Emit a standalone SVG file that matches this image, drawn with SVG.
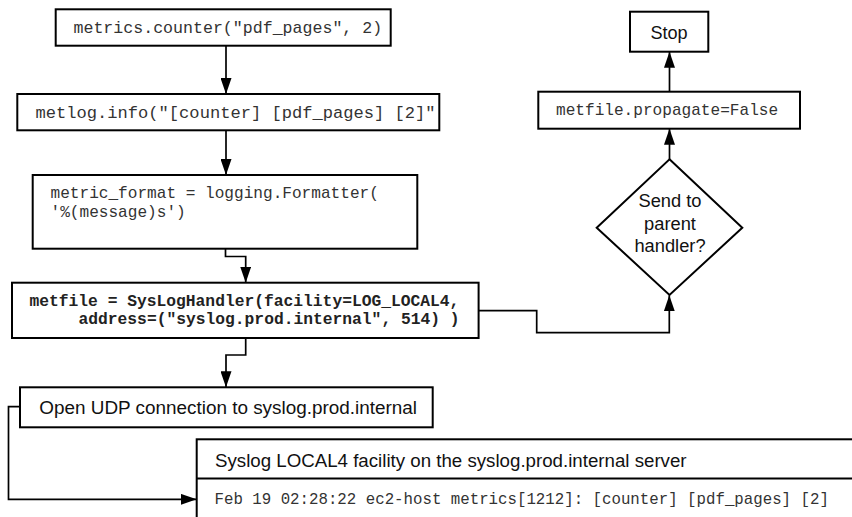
<svg xmlns="http://www.w3.org/2000/svg" width="852" height="517" viewBox="0 0 852 517">
<style>
.box{fill:#fff;stroke:#000;stroke-width:2}
.con{fill:none;stroke:#000;stroke-width:1.7}
.mono{font-family:"Liberation Mono","Courier New",monospace;fill:#333}
.bold{font-weight:bold;fill:#222}
.sans{font-family:"Liberation Sans",Arial,sans-serif;fill:#111}
</style>
<defs>
<marker id="arr" markerUnits="userSpaceOnUse" markerWidth="16" markerHeight="11" refX="16" refY="5.5" orient="auto">
<path d="M0,0 L16,5.5 L0,11 z" fill="#000"/>
</marker>
</defs>
<rect width="852" height="517" fill="#fff"/>
<g id="connectors">
<path class="con" d="M226,46 V94" marker-end="url(#arr)"/>
<path class="con" d="M226,130.5 V175" marker-end="url(#arr)"/>
<path class="con" d="M225.5,249 V256.5 H245.7 V282.7" marker-end="url(#arr)"/>
<path class="con" d="M245.7,338 V355 H226 V387.3" marker-end="url(#arr)"/>
<path class="con" d="M20,406.7 H8.5 V499.3 H196.7" marker-end="url(#arr)"/>
<path class="con" d="M479,310.7 H536.7 V332.7 H669.3 V295.3" marker-end="url(#arr)"/>
<path class="con" d="M669.5,159.5 V128.7" marker-end="url(#arr)"/>
<path class="con" d="M669.5,91.7 V51.7" marker-end="url(#arr)"/>
</g>
<g id="n1">
<rect class="box" x="55.7" y="9.3" width="335" height="36.4"/>
<text class="mono" x="73.5" y="32.5" font-size="16.6">metrics.counter("pdf_pages", 2)</text>
</g>
<g id="n2">
<rect class="box" x="17.3" y="94" width="422" height="36.3"/>
<text class="mono" x="35.5" y="118" font-size="17.1">metlog.info("[counter] [pdf_pages] [2]"</text>
</g>
<g id="n3">
<rect class="box" x="32.7" y="175" width="384.6" height="73.7"/>
<text class="mono" x="50.5" y="197.5" font-size="16.1">metric_format = logging.Formatter(</text>
<text class="mono" x="50.5" y="216.5" font-size="16.1">'%(message)s')</text>
</g>
<g id="n4">
<rect class="box" x="12" y="282.7" width="466.6" height="55.3"/>
<text class="mono bold" x="29.5" y="306" font-size="16.3">metfile = SysLogHandler(facility=LOG_LOCAL4,</text>
<text class="mono bold" x="78.5" y="324.3" font-size="16.3">address=("syslog.prod.internal", 514) )</text>
</g>
<g id="n5">
<rect class="box" x="20" y="387.3" width="412.7" height="40"/>
<text class="sans" x="39.3" y="414" font-size="18.9">Open UDP connection to syslog.prod.internal</text>
</g>
<g id="n6">
<rect class="box" x="196.7" y="439.3" width="700" height="120"/>
<line x1="196.7" y1="478.5" x2="852" y2="478.5" stroke="#000" stroke-width="2"/>
<text class="sans" x="215" y="466.7" font-size="18.7">Syslog LOCAL4 facility on the syslog.prod.internal server</text>
<text class="mono" x="214.5" y="504" font-size="15.75">Feb 19 02:28:22 ec2-host metrics[1212]: [counter] [pdf_pages] [2]</text>
</g>
<g id="n7">
<polygon class="box" points="669.5,159.3 742.3,227.7 669.5,295 596.7,227.7"/>
<text class="sans" x="670" y="207" font-size="18.3" text-anchor="middle">Send to</text>
<text class="sans" x="670" y="230" font-size="18.3" text-anchor="middle">parent</text>
<text class="sans" x="670" y="252.3" font-size="18.3" text-anchor="middle">handler?</text>
</g>
<g id="n8">
<rect class="box" x="538.3" y="91.7" width="261.7" height="37"/>
<text class="mono" x="556" y="115" font-size="16.1">metfile.propagate=False</text>
</g>
<g id="n9">
<rect class="box" x="630" y="11.7" width="78.3" height="40"/>
<text class="sans" x="669" y="39.3" font-size="18.1" text-anchor="middle">Stop</text>
</g>
</svg>
